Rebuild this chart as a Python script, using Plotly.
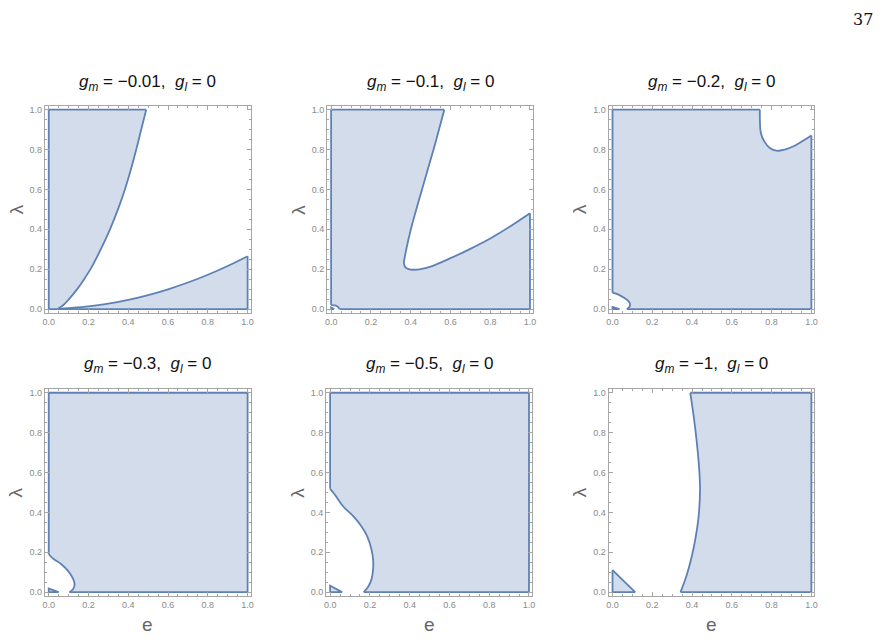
import plotly.graph_objects as go

# ---------------- data ----------------
titles = [
    "<i>g</i><sub><i>m</i></sub> = \u22120.01,\u00a0\u00a0<i>g</i><sub><i>l</i></sub> = 0",
    "<i>g</i><sub><i>m</i></sub> = \u22120.1,\u00a0\u00a0<i>g</i><sub><i>l</i></sub> = 0",
    "<i>g</i><sub><i>m</i></sub> = \u22120.2,\u00a0\u00a0<i>g</i><sub><i>l</i></sub> = 0",
    "<i>g</i><sub><i>m</i></sub> = \u22120.3,\u00a0\u00a0<i>g</i><sub><i>l</i></sub> = 0",
    "<i>g</i><sub><i>m</i></sub> = \u22120.5,\u00a0\u00a0<i>g</i><sub><i>l</i></sub> = 0",
    "<i>g</i><sub><i>m</i></sub> = \u22121,\u00a0\u00a0<i>g</i><sub><i>l</i></sub> = 0",
]
tick_vals = [0.0, 0.2, 0.4, 0.6, 0.8, 1.0]
tick_text = ["0.0", "0.2", "0.4", "0.6", "0.8", "1.0"]

# ----- panel 1 (g_m = -0.01) -----
p1_edgeA_e = [0.045, 0, 0, 0.49]
p1_edgeA_l = [0, 0, 1, 1]
p1_curveA_e = [0.49, 0.465, 0.44, 0.413, 0.383, 0.348, 0.308, 0.262, 0.21, 0.178, 0.143, 0.102, 0.074, 0.045]
p1_curveA_l = [1, 0.9, 0.8, 0.7, 0.6, 0.5, 0.4, 0.3, 0.2, 0.15, 0.1, 0.05, 0.02, 0]
p1_curveB_e = [0.045, 0.1, 0.2, 0.3, 0.4, 0.5, 0.6, 0.7, 0.8, 0.9, 1.0]
p1_curveB_l = [0, 0.004, 0.013, 0.027, 0.046, 0.07, 0.099, 0.133, 0.172, 0.216, 0.265]
p1_edgeB_e = [1.0, 1.0, 0.045]
p1_edgeB_l = [0.265, 0, 0]

# ----- panel 2 (g_m = -0.1) -----
p2_edge1_e = [1.0, 1.0, 0.042]
p2_edge1_l = [0.48, 0, 0]
p2_curve1_e = [0.042, 0.035, 0.02, 0]
p2_curve1_l = [0, 0.01, 0.018, 0.02]
p2_edge2_e = [0, 0, 0.569]
p2_edge2_l = [0.02, 1, 1]
p2_curve2_e = [0.569, 0.515, 0.457, 0.401, 0.378, 0.368, 0.366, 0.373, 0.39, 0.415, 0.45, 0.5,
               0.6, 0.7, 0.8, 0.9, 1.0]
p2_curve2_l = [1, 0.8, 0.6, 0.4, 0.3, 0.247, 0.23, 0.21, 0.2, 0.197, 0.2, 0.213,
               0.255, 0.302, 0.354, 0.414, 0.48]
p2_tri_e = [0, 0.015, 0, 0]
p2_tri_l = [0, 0, 0.008, 0]

# ----- panel 3 (g_m = -0.2) -----
p3_edge1_e = [1.0, 1.0, 0.072]
p3_edge1_l = [0.871, 0, 0]
p3_curve1_e = [0.072, 0.085, 0.088, 0.08, 0.06, 0.03, 0]
p3_curve1_l = [0, 0.01, 0.025, 0.04, 0.055, 0.072, 0.082]
p3_edge2_e = [0, 0, 0.741]
p3_edge2_l = [0.082, 1, 1]
p3_curve2_e = [0.741, 0.741, 0.746, 0.763, 0.791, 0.824, 0.866, 0.916, 0.958, 1.0]
p3_curve2_l = [1, 0.95, 0.883, 0.841, 0.808, 0.794, 0.8, 0.819, 0.844, 0.871]
p3_tri_e = [0, 0.035, 0, 0]
p3_tri_l = [0, 0, 0.01, 0]

# ----- panel 4 (g_m = -0.3) -----
p4_edge_e = [0, 0, 1, 1, 0.104]
p4_edge_l = [0.19, 1, 1, 0, 0]
p4_curve_e = [0.104, 0.122, 0.13, 0.122, 0.097, 0.063, 0.022, 0]
p4_curve_l = [0, 0.015, 0.04, 0.068, 0.107, 0.14, 0.168, 0.19]
p4_tri_e = [0, 0.05, 0, 0]
p4_tri_l = [0, 0, 0.018, 0]

# ----- panel 5 (g_m = -0.5) -----
p5_edge_e = [0, 0, 1, 1, 0.169]
p5_edge_l = [0.518, 1, 1, 0, 0]
p5_curve_e = [0.169, 0.191, 0.208, 0.216, 0.216, 0.208, 0.186, 0.157, 0.116, 0.065, 0.023, 0]
p5_curve_l = [0, 0.027, 0.064, 0.114, 0.164, 0.214, 0.281, 0.331, 0.381, 0.431, 0.49, 0.518]
p5_tri_e = [0, 0.06, 0, 0]
p5_tri_l = [0, 0, 0.032, 0]

# ----- panel 6 (g_m = -1) -----
p6_edge_e = [0.391, 1, 1, 0.342]
p6_edge_l = [1, 1, 0, 0]
p6_curve_e = [0.342, 0.374, 0.399, 0.419, 0.433, 0.44, 0.436, 0.424, 0.408, 0.391]
p6_curve_l = [0, 0.089, 0.181, 0.281, 0.381, 0.515, 0.615, 0.749, 0.883, 1]
p6_tri_e = [0, 0.114, 0, 0]
p6_tri_l = [0, 0, 0.11, 0]

# each region = closed chain of segments ("edge" straight, "curve" smooth)
panels = [
    [[("edge", p1_edgeA_e, p1_edgeA_l), ("curve", p1_curveA_e, p1_curveA_l)],
     [("curve", p1_curveB_e, p1_curveB_l), ("edge", p1_edgeB_e, p1_edgeB_l)]],
    [[("edge", p2_edge1_e, p2_edge1_l), ("curve", p2_curve1_e, p2_curve1_l),
      ("edge", p2_edge2_e, p2_edge2_l), ("curve", p2_curve2_e, p2_curve2_l)],
     [("edge", p2_tri_e, p2_tri_l)]],
    [[("edge", p3_edge1_e, p3_edge1_l), ("curve", p3_curve1_e, p3_curve1_l),
      ("edge", p3_edge2_e, p3_edge2_l), ("curve", p3_curve2_e, p3_curve2_l)],
     [("edge", p3_tri_e, p3_tri_l)]],
    [[("edge", p4_edge_e, p4_edge_l), ("curve", p4_curve_e, p4_curve_l)],
     [("edge", p4_tri_e, p4_tri_l)]],
    [[("edge", p5_edge_e, p5_edge_l), ("curve", p5_curve_e, p5_curve_l)],
     [("edge", p5_tri_e, p5_tri_l)]],
    [[("edge", p6_edge_e, p6_edge_l), ("curve", p6_curve_e, p6_curve_l)],
     [("edge", p6_tri_e, p6_tri_l)]],
]

# ---------------- layout constants ----------------
W, H = 883, 639
origins = [(47, 309), (331, 309), (614, 309), (47, 593), (330, 593), (614, 593)]
UNIT = 200.0
XR = [-0.02, 1.015]
YR = [-0.02, 1.02]

FILL = "rgba(211,220,235,1)"
LINE = "#5E81B5"
FRAME = "#a6a6a6"
TICKFONT = "#8a8a8a"
LABEL = "#666666"
SANS = "Liberation Sans, Arial, sans-serif"

fig = go.Figure()
annotations = []

for i, (x0, y0) in enumerate(origins):
    ax = "" if i == 0 else str(i + 1)
    left = x0 + XR[0] * UNIT
    right = x0 + XR[1] * UNIT
    top = y0 - YR[1] * UNIT
    bottom = y0 - YR[0] * UNIT
    for region in panels[i]:
        pe, pl = [], []
        for kind, ee, ll in region:
            pe += list(ee)
            pl += list(ll)
        fig.add_trace(go.Scatter(
            x=pe, y=pl, mode="lines", fill="toself", fillcolor=FILL,
            line=dict(color="rgba(0,0,0,0)", width=0), xaxis="x" + ax, yaxis="y" + ax,
            showlegend=False, hoverinfo="skip"))
        for kind, ee, ll in region:
            fig.add_trace(go.Scatter(
                x=ee, y=ll, mode="lines",
                line=dict(color=LINE, width=1.8,
                          shape="spline" if kind == "curve" else "linear", smoothing=1.0),
                xaxis="x" + ax, yaxis="y" + ax, showlegend=False, hoverinfo="skip"))
    axis_common = dict(
        showline=True, mirror="ticks", linecolor=FRAME, linewidth=1,
        ticks="inside", ticklen=4, tickcolor=FRAME, tickwidth=1,
        tickvals=tick_vals, ticktext=tick_text,
        tickfont=dict(family=SANS, size=9, color=TICKFONT),
        showgrid=False, zeroline=False,
        minor=dict(ticks="inside", ticklen=2, dtick=0.05, tick0=0, tickcolor=FRAME, showgrid=False),
    )
    fig.layout["xaxis" + ax] = dict(
        axis_common, range=XR, domain=[left / W, right / W], anchor="y" + ax)
    fig.layout["yaxis" + ax] = dict(
        axis_common, range=YR, domain=[1 - bottom / H, 1 - top / H], anchor="x" + ax)

    cx = (left + right) / 2
    ty = 82 if i < 3 else 365
    annotations.append(dict(
        text=titles[i], x=cx / W, y=1 - ty / H, xref="paper", yref="paper",
        xanchor="center", yanchor="middle", showarrow=False,
        font=dict(family=SANS, size=17, color="#111111")))
    annotations.append(dict(
        text="\u03bb", x=(left - 29) / W, y=1 - ((top + bottom) / 2) / H,
        xref="paper", yref="paper", xanchor="center", yanchor="middle",
        textangle=-90, showarrow=False,
        font=dict(family=SANS, size=19, color=LABEL)))
    if i >= 3:
        annotations.append(dict(
            text="e", x=cx / W, y=1 - 625 / H, xref="paper", yref="paper",
            xanchor="center", yanchor="middle", showarrow=False,
            font=dict(family=SANS, size=19, color=LABEL)))

annotations.append(dict(
    text="37", x=866 / W, y=1 - 19 / H, xref="paper", yref="paper",
    xanchor="center", yanchor="middle", showarrow=False,
    font=dict(family="DejaVu Serif, Liberation Serif, serif", size=16, color="#111111")))

fig.update_layout(
    width=W, height=H, margin=dict(l=0, r=0, t=0, b=0),
    paper_bgcolor="white", plot_bgcolor="white",
    annotations=annotations, showlegend=False,
)

fig.write_html("out.html")
